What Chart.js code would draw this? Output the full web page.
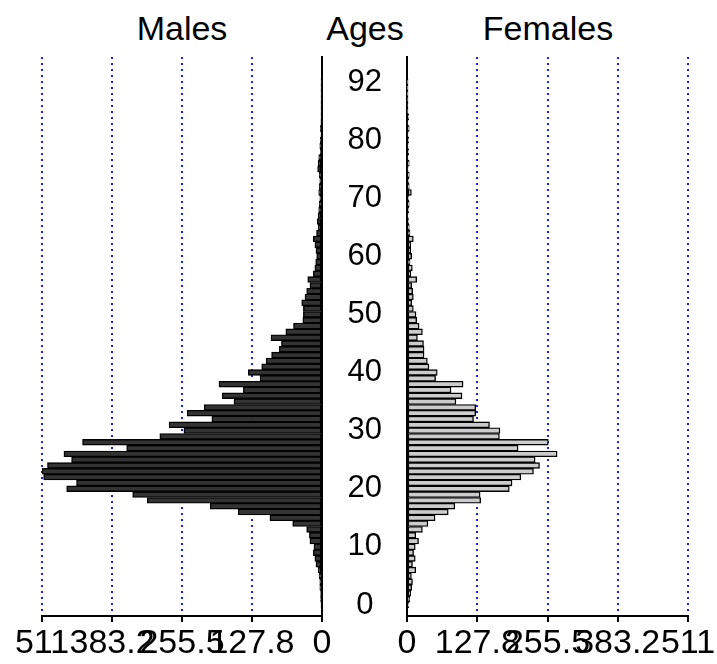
<!DOCTYPE html>
<html>
<head>
<meta charset="utf-8">
<script src="https://cdn.jsdelivr.net/npm/chart.js@4.4.1/dist/chart.umd.min.js"></script>
<style>
  body { margin: 0; background: #fff; }
  #wrap { position: relative; width: 717px; height: 664px; font-family: "Liberation Sans", Arial, sans-serif; }
  .title { position: absolute; top: 9px; font-size: 34px; line-height: 38px; transform: translateX(-50%); color: #000; }
  .pane { position: absolute; top: 0; height: 664px; }
</style>
</head>
<body>
<div id="wrap">
  <div class="title" style="left:182px">Males</div>
  <div class="title" style="left:365px">Ages</div>
  <div class="title" style="left:548px">Females</div>
  <div class="pane" style="left:0; width:345px"><canvas id="maleChart"></canvas></div>
  <div class="pane" style="left:322px; width:395px"><canvas id="femaleChart"></canvas></div>
</div>
<script>
// Population pyramid, one bar per age

const ages = [
  0, 1, 2, 3, 4, 5, 6, 7, 8, 9,
  10, 11, 12, 13, 14, 15, 16, 17, 18, 19,
  20, 21, 22, 23, 24, 25, 26, 27, 28, 29,
  30, 31, 32, 33, 34, 35, 36, 37, 38, 39,
  40, 41, 42, 43, 44, 45, 46, 47, 48, 49,
  50, 51, 52, 53, 54, 55, 56, 57, 58, 59,
  60, 61, 62, 63, 64, 65, 66, 67, 68, 69,
  70, 71, 72, 73, 74, 75, 76, 77, 78, 79,
  80, 81, 82, 83, 84, 85, 86, 87, 88, 89,
  92
];

const males = [
  1.5, 2.5, 2.5, 4, 4, 5, 7, 11, 13, 16,
  14.6, 22, 23, 28, 53.5, 95, 153, 204, 319, 345.5,
  466, 448, 508, 511, 501, 457, 471, 356.5, 437, 296,
  252, 279, 201, 246, 215, 160.6, 182, 143.5, 188, 113,
  134.4, 110, 102, 92, 78, 74, 93, 66, 52, 35,
  34, 34, 37, 31, 28, 22, 26, 16, 13, 11.5,
  9.7, 11, 13, 16, 10, 7, 8.5, 7, 6, 5,
  4, 6, 5, 4, 5, 8, 7, 6, 3, 4,
  3, 2, 3, 2, 1.5, 1, 1, 0.5, 0.5, 0.5,
  0.5
];

const females = [
  3, 5, 6.7, 8.5, 10, 8, 16, 10, 15, 12,
  15, 21, 16, 28, 38, 51, 75, 87, 134, 133,
  186, 191, 207, 230, 241, 233, 273, 202, 257, 168,
  169, 150, 121, 125, 125, 89, 100, 80, 102, 52,
  55, 40, 37, 31, 31, 30, 19, 28, 22, 17.6,
  16.4, 11.5, 8.5, 11.5, 10.3, 8.5, 17.6, 6.7, 9.7, 5.5,
  8.5, 6.7, 6.7, 11.5, 5.5, 4, 3, 2, 3, 4,
  3, 8, 4, 3, 4, 2, 4, 2, 3, 2,
  3, 2, 4, 2, 3, 1, 1.5, 1, 0.5, 0.5,
  0.5
];

const countTicks = [0, 127.8, 255.5, 383.2, 511];
const countTickLabels = ['0', '127.8', '255.5', '383.2', '511'];
const ageTickRows = [0, 10, 20, 30, 40, 50, 60, 70, 80, 90];

const FONT = '"Liberation Sans", Arial, sans-serif';
const PLOT_TOP = 57;
const PLOT_BOTTOM = 616;
const ROW_MIN = -1.9;
const ROW_MAX = 94.3;

function toPoints(values) {
  return values.map((v, i) => ({ x: v, y: i }));
}

function countAxis(reverse) {
  return {
    type: 'linear',
    reverse: reverse,
    min: 0,
    max: 511,
    afterBuildTicks: scale => { scale.ticks = countTicks.map(v => ({ value: v })); },
    afterFit: scale => { scale.height = 664 - PLOT_BOTTOM; },
    ticks: {
      autoSkip: false,
      maxRotation: 0,
      minRotation: 0,
      padding: 1,
      color: '#000',
      font: { family: FONT, size: 34 },
      callback: (value) => countTickLabels[countTicks.indexOf(value)]
    },
    grid: {
      color: ctx => (ctx.tick && ctx.tick.value === 0) ? 'rgba(0,0,0,0)' : '#1a1aff',
      lineWidth: 2,
      tickColor: '#000',
      tickLength: 6,
      tickWidth: 2
    },
    border: { display: true, color: '#000', width: 2, dash: [2, 4] }
  };
}

function rowAxis(position, showLabels) {
  return {
    type: 'linear',
    position: position,
    offset: false,
    min: ROW_MIN,
    max: ROW_MAX,
    afterBuildTicks: scale => { scale.ticks = ageTickRows.map(v => ({ value: v })); },
    afterFit: scale => { scale.width = showLabels ? 85 : 0; },
    ticks: {
      display: showLabels,
      crossAlign: 'center',
      padding: 25,
      color: '#000',
      font: { family: FONT, size: 31 },
      callback: (value) => String(ages[value])
    },
    grid: { display: false, drawTicks: false, offset: false },
    border: { display: true, color: '#000', width: 2 }
  };
}

function makePyramidSide(canvasId, values, fill, side) {
  const ctx = document.getElementById(canvasId).getContext('2d');
  const isLeft = side === 'left';
  return new Chart(ctx, {
    type: 'bar',
    data: {
      datasets: [{
        label: isLeft ? 'Males' : 'Females',
        data: toPoints(values),
        backgroundColor: fill,
        borderColor: '#000',
        borderWidth: 1.4,
        borderSkipped: false,
        barPercentage: 1.0,
        categoryPercentage: 1.0
      }]
    },
    options: {
      indexAxis: 'y',
      responsive: true,
      maintainAspectRatio: false,
      animation: false,
      layout: {
        padding: isLeft
          ? { top: PLOT_TOP, left: 42, right: 23, bottom: 0 }
          : { top: PLOT_TOP, left: 0, right: 29, bottom: 0 }
      },
      plugins: { legend: { display: false }, tooltip: { enabled: false } },
      scales: {
        x: countAxis(isLeft),
        y: rowAxis(isLeft ? 'right' : 'left', !isLeft)
      }
    }
  });
}

document.addEventListener('DOMContentLoaded', function() {
  window.maleChart = makePyramidSide('maleChart', males, '#333333', 'left');
  window.femaleChart = makePyramidSide('femaleChart', females, '#cccccc', 'right');
});
</script>
</body>
</html>
